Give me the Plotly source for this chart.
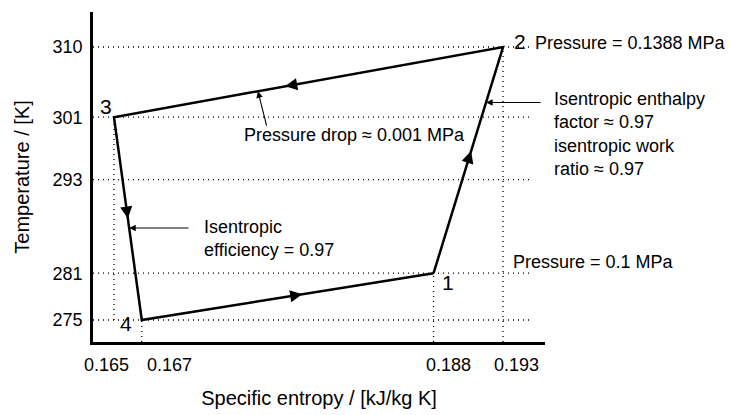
import plotly.graph_objects as go

# ---- data ----
state_labels = ["1", "2", "3", "4"]
entropy = [0.188, 0.193, 0.165, 0.167]      # kJ/kg K
temperature = [281, 310, 301, 275]          # K

x_ticks = [0.165, 0.167, 0.188, 0.193]
x_tick_text = ["0.165", "0.167", "0.188", "0.193"]
y_ticks = [275, 281, 293, 301, 310]
y_tick_text = ["275", "281", "293", "301", "310"]

# ---- layout constants ----
XR = [0.16349, 0.19602]
YR = [272.18, 314.49]
FONT = "Liberation Sans, Arial, Helvetica, sans-serif"
X_LABEL_SHIFT = [-7, 28, 15, 13]   # px, label placement as in the original drawing

def along(i, j, f):
    """point at fraction f along the segment from state i to state j"""
    return (entropy[i] + f * (entropy[j] - entropy[i]),
            temperature[i] + f * (temperature[j] - temperature[i]))

fig = go.Figure()

# cycle 1-2-3-4-1
cx = entropy + [entropy[0]]
cy = temperature + [temperature[0]]
fig.add_trace(go.Scatter(x=cx, y=cy, mode="lines",
                         line=dict(color="black", width=2.5),
                         hoverinfo="skip", showlegend=False))

shapes = []
dot = dict(color="black", width=1.3, dash="1px,4px")
for t in y_ticks:
    shapes.append(dict(type="line", xref="paper", yref="y", x0=0, x1=0.97,
                       y0=t, y1=t, line=dot, layer="below"))
# vertical guide lines
shapes.append(dict(type="line", xref="x", yref="y", x0=x_ticks[0], x1=x_ticks[0],
                   y0=temperature[3], y1=temperature[2], line=dot, layer="below"))
shapes.append(dict(type="line", xref="x", yref="y", x0=x_ticks[1], x1=x_ticks[1],
                   y0=YR[0], y1=temperature[3], line=dot, layer="below"))
shapes.append(dict(type="line", xref="x", yref="y", x0=x_ticks[2], x1=x_ticks[2],
                   y0=YR[0], y1=temperature[0], line=dot, layer="below"))
shapes.append(dict(type="line", xref="x", yref="y", x0=x_ticks[3], x1=x_ticks[3],
                   y0=YR[0], y1=temperature[1], line=dot, layer="below"))

ann = []
# x tick labels
for v, txt, sh in zip(x_ticks, x_tick_text, X_LABEL_SHIFT):
    ann.append(dict(x=v, y=0, xref="x", yref="paper", text=txt, showarrow=False,
                    xanchor="center", yanchor="middle", xshift=sh, yshift=-23,
                    font=dict(size=18, color="black", family=FONT)))

# direction arrows on cycle
for (i, j, f) in [(3, 0, 0.55), (0, 1, 0.54), (1, 2, 0.56), (2, 3, 0.5)]:
    tx, ty = along(i, j, f)
    bx, by = along(i, j, f - 0.04)
    ann.append(dict(x=tx, y=ty, ax=bx, ay=by, xref="x", yref="y", axref="x", ayref="y",
                    text="", showarrow=True, arrowhead=2, arrowsize=1.1,
                    arrowwidth=2.2, arrowcolor="black"))

# state labels
lab_off = {"1": (14, -9), "2": (17, 6), "3": (-8, 11), "4": (-16, -3)}
for k, lab in enumerate(state_labels):
    ann.append(dict(x=entropy[k], y=temperature[k], xref="x", yref="y", text=lab,
                    showarrow=False, font=dict(size=21, color="black", family=FONT),
                    xshift=lab_off[lab][0], yshift=lab_off[lab][1]))

tf = dict(size=18, color="black", family=FONT)
# pressure labels
ann.append(dict(x=entropy[1], y=temperature[1], xref="x", yref="y",
                text="Pressure = 0.1388 MPa", showarrow=False, xanchor="left",
                xshift=30, yshift=4, font=tf))
ann.append(dict(x=x_ticks[3], y=temperature[0], xref="x", yref="y",
                text="Pressure = 0.1 MPa", showarrow=False, xanchor="left",
                xshift=8, yshift=11, font=tf))

# pressure drop
tx, ty = along(2, 1, (0.17536 - entropy[2]) / (entropy[1] - entropy[2]))
ann.append(dict(x=tx, y=ty, ax=0.17601, ay=299.74, xref="x", yref="y", axref="x", ayref="y",
                text="", showarrow=True, arrowhead=2, arrowsize=1.2, arrowwidth=1.1,
                arrowcolor="black"))
ann.append(dict(x=0.17421, y=298.72, xref="x", yref="y", xanchor="left",
                text="Pressure drop ≈ 0.001 MPa", showarrow=False, font=tf))

# compressor
f12 = 0.755
tx, ty = along(0, 1, f12)
ann.append(dict(x=tx, y=ty, ax=0.19581, ay=ty, xref="x", yref="y", axref="x", ayref="y",
                text="", showarrow=True, arrowhead=2, arrowsize=1.2, arrowwidth=1.1,
                arrowcolor="black"))
ann.append(dict(x=1.0155, y=298.85, xref="paper", yref="y", xanchor="left", align="left",
                text="Isentropic enthalpy<br>factor ≈ 0.97<br>isentropic work<br>ratio ≈ 0.97",
                showarrow=False, font=tf))

# expander
f34 = 0.546
tx, ty = along(2, 3, f34)
ann.append(dict(x=tx, y=ty, ax=0.17047, ay=ty, xref="x", yref="y", axref="x", ayref="y",
                text="", showarrow=True, arrowhead=2, arrowsize=1.2, arrowwidth=1.1,
                arrowcolor="black"))
ann.append(dict(x=0.17133, y=285.4, xref="x", yref="y", xanchor="left", align="left",
                text="Isentropic<br>efficiency = 0.97", showarrow=False, font=tf))

fig.update_layout(
    width=730, height=415,
    margin=dict(l=93, r=185, t=12, b=73),
    paper_bgcolor="white", plot_bgcolor="white",
    font=dict(family=FONT, size=18, color="black"),
    shapes=shapes, annotations=ann, showlegend=False,
    xaxis=dict(range=XR, tickvals=x_ticks, ticktext=x_tick_text, showticklabels=False,
               showgrid=False, zeroline=False, showline=True, linecolor="black",
               linewidth=2.5, automargin=False,
               title=dict(text="Specific entropy / [kJ/kg K]", font=dict(size=20), standoff=48)),
    yaxis=dict(range=YR, tickvals=y_ticks, ticktext=y_tick_text, showgrid=False,
               zeroline=False, showline=True, linecolor="black", linewidth=2.5,
               ticks="outside", ticklen=4, tickcolor="rgba(0,0,0,0)",
               tickfont=dict(size=18), automargin=False,
               title=dict(text="Temperature / [K]", font=dict(size=20), standoff=18)),
)

fig.write_html("out.html", config={"displayModeBar": False},
               post_script="document.body.style.margin='0px';")
